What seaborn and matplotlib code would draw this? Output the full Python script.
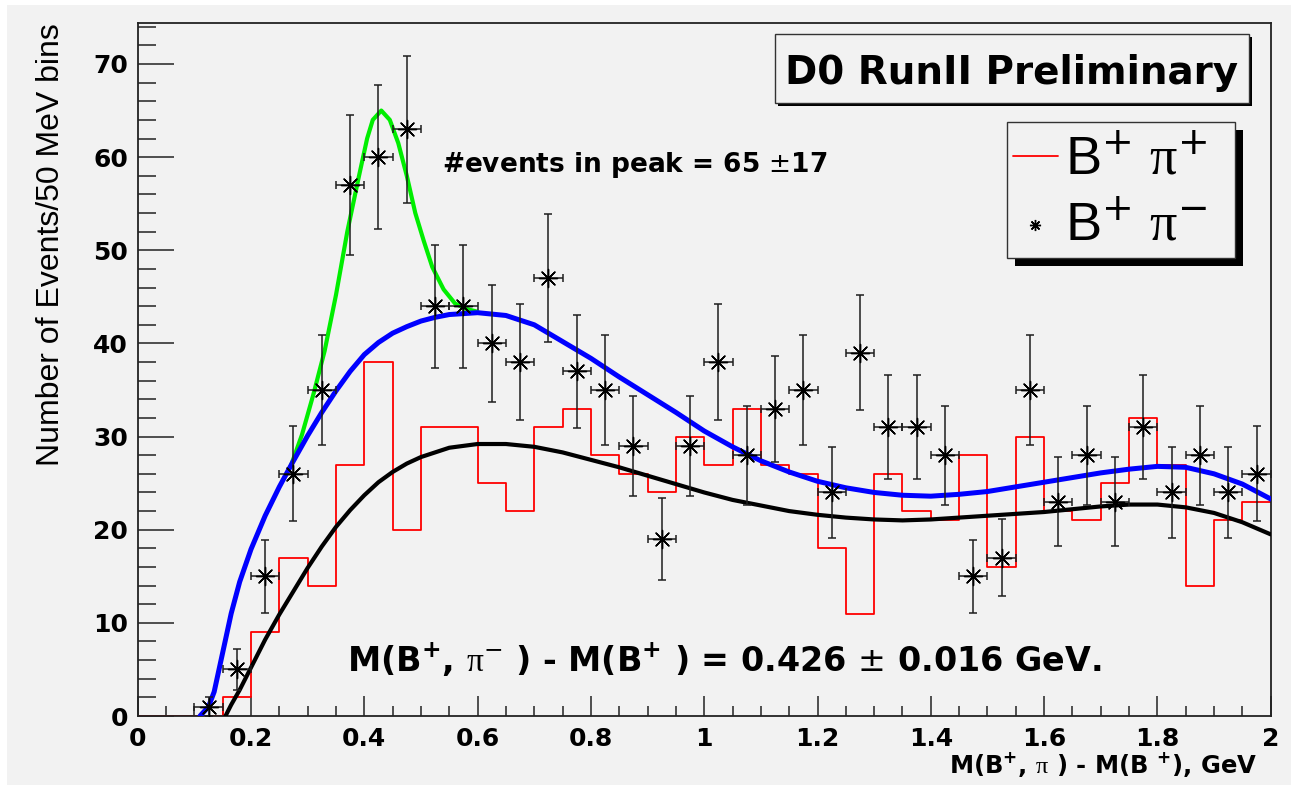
import numpy as np
import pandas as pd
import matplotlib
matplotlib.use("Agg")
import matplotlib.pyplot as plt
from matplotlib.patches import Rectangle
from matplotlib.lines import Line2D
from matplotlib.ticker import MultipleLocator, FixedLocator
import seaborn as sns

# ---------------------------------------------------------------- data
# 50 MeV bins of M(B+,pi) - M(B+) in GeV
BIN_WIDTH = 0.05
bin_edges = np.linspace(0.0, 2.0, 41)
bin_centers = 0.5 * (bin_edges[:-1] + bin_edges[1:])

# right-sign B+ pi- candidates per bin
minus_counts = [0, 0, 1, 5, 15, 26, 35, 57, 60, 63,
                44, 44, 40, 38, 47, 37, 35, 29, 19, 29,
                38, 28, 33, 35, 24, 39, 31, 31, 28, 15,
                17, 35, 23, 28, 23, 31, 24, 28, 24, 26]
minus_errors = [0.0, 0.0, 1.0, 2.2, 3.9, 5.1, 5.9, 7.5, 7.7, 7.9,
                6.6, 6.6, 6.3, 6.2, 6.9, 6.1, 5.9, 5.4, 4.4, 5.4,
                6.2, 5.3, 5.7, 5.9, 4.9, 6.2, 5.6, 5.6, 5.3, 3.9,
                4.1, 5.9, 4.8, 5.3, 4.8, 5.6, 4.9, 5.3, 4.9, 5.1]

# wrong-sign B+ pi+ candidates per bin
plus_counts = [0, 0, 0, 2, 9, 17, 14, 27, 38, 20,
               31, 31, 25, 22, 31, 33, 28, 26, 24, 30,
               27, 33, 27, 26, 18, 11, 26, 22, 21, 28,
               16, 30, 22, 21, 25, 32, 27, 14, 21, 23]

# background fit to B+ pi+ (black)
bkg_x = [0.155, 0.165, 0.180, 0.200, 0.225, 0.250, 0.275, 0.300, 0.325, 0.350,
         0.375, 0.400, 0.425, 0.450, 0.475, 0.500, 0.550, 0.600, 0.650, 0.700,
         0.750, 0.800, 0.850, 0.900, 0.950, 1.000, 1.050, 1.100, 1.150, 1.200,
         1.250, 1.300, 1.350, 1.400, 1.450, 1.500, 1.550, 1.600, 1.650, 1.700,
         1.750, 1.800, 1.850, 1.900, 1.950, 2.000]
bkg_y = [0.0, 1.2, 2.8, 5.2, 8.2, 10.9, 13.4, 15.9, 18.2, 20.3,
         22.1, 23.7, 25.1, 26.2, 27.1, 27.8, 28.8, 29.2, 29.2, 28.9,
         28.3, 27.5, 26.7, 25.8, 24.9, 24.0, 23.2, 22.6, 22.0, 21.6,
         21.3, 21.1, 21.0, 21.1, 21.3, 21.5, 21.7, 21.9, 22.2, 22.5,
         22.7, 22.7, 22.4, 21.8, 20.8, 19.5]

# background fit to B+ pi- (blue)
fit_x = [0.110, 0.125, 0.135, 0.150, 0.165, 0.180, 0.200, 0.225, 0.250, 0.275,
         0.300, 0.325, 0.350, 0.375, 0.400, 0.425, 0.450, 0.475, 0.500, 0.525,
         0.550, 0.600, 0.650, 0.700, 0.750, 0.800, 0.850, 0.900, 0.950, 1.000,
         1.050, 1.100, 1.150, 1.200, 1.250, 1.300, 1.350, 1.400, 1.450, 1.500,
         1.550, 1.600, 1.650, 1.700, 1.750, 1.800, 1.850, 1.900, 1.950, 2.000]
fit_y = [0.0, 1.0, 2.6, 6.8, 11.0, 14.4, 17.9, 21.5, 24.6, 27.4,
         30.1, 32.6, 34.9, 37.0, 38.8, 40.1, 41.1, 41.8, 42.4, 42.8,
         43.1, 43.3, 43.0, 42.0, 40.2, 38.4, 36.4, 34.5, 32.6, 30.6,
         28.9, 27.4, 26.2, 25.2, 24.5, 24.0, 23.7, 23.6, 23.8, 24.1,
         24.6, 25.1, 25.6, 26.1, 26.5, 26.8, 26.7, 26.0, 24.9, 23.3]

# signal + background fit (green)
peak_x = [0.270, 0.290, 0.310, 0.330, 0.350, 0.370, 0.390, 0.405, 0.415, 0.430,
          0.445, 0.460, 0.475, 0.490, 0.505, 0.520, 0.540, 0.560, 0.580, 0.600]
peak_y = [26.8, 30.2, 34.5, 39.2, 45.2, 52.0, 57.8, 62.0, 64.0, 65.0,
          64.0, 61.5, 58.0, 54.0, 51.0, 48.2, 45.8, 44.3, 43.7, 43.4]

x_tick_values = [0.0, 0.2, 0.4, 0.6, 0.8, 1.0, 1.2, 1.4, 1.6, 1.8, 2.0]
x_tick_labels = ["0", "0.2", "0.4", "0.6", "0.8", "1", "1.2", "1.4", "1.6", "1.8", "2"]
y_tick_values = [0, 10, 20, 30, 40, 50, 60, 70]

# ---------------------------------------------------------------- style
sns.set_style("ticks")
plt.rcParams["font.family"] = ["DejaVu Sans"]
plt.rcParams["text.color"] = "black"
plt.rcParams["axes.labelcolor"] = "black"
plt.rcParams["xtick.color"] = "black"
plt.rcParams["ytick.color"] = "black"
plt.rcParams["mathtext.fontset"] = "custom"
plt.rcParams["mathtext.rm"] = "DejaVu Sans"
plt.rcParams["mathtext.it"] = "DejaVu Sans:italic"
plt.rcParams["mathtext.bf"] = "DejaVu Sans:bold"
plt.rcParams["mathtext.sf"] = "Liberation Serif"

BG = "#f2f2f2"
W, H = 1298, 792


def fx(px):
    return px / W


def fy(py):
    return 1.0 - py / H


fig = plt.figure(figsize=(W / 100, H / 100), dpi=100, facecolor="white")
fig.add_artist(Rectangle((fx(7), fy(785)), fx(1291) - fx(7), fy(5) - fy(785),
                         transform=fig.transFigure, facecolor=BG,
                         edgecolor="none", zorder=-10))

AX_L, AX_R, AX_T, AX_B = 137.7, 1270.7, 23.0, 716.0
ax = fig.add_axes([fx(AX_L), fy(AX_B), fx(AX_R) - fx(AX_L), fy(AX_T) - fy(AX_B)])
ax.set_facecolor(BG)

plus_df = pd.DataFrame({"mass": bin_centers, "n": plus_counts})
minus_df = pd.DataFrame({"mass": bin_centers, "n": minus_counts, "err": minus_errors})
minus_df = minus_df[minus_df["n"] > 0]

# wrong-sign histogram
sns.histplot(data=plus_df, x="mass", weights="n", binwidth=BIN_WIDTH,
             binrange=(0.0, 2.0), element="step", fill=False, color="#ff0000",
             linewidth=1.3, ax=ax, zorder=2)

# fit curves
sns.lineplot(x=peak_x, y=peak_y, sort=False, estimator=None,
             color="#00ee00", linewidth=3.0, ax=ax, zorder=3)
sns.lineplot(x=fit_x, y=fit_y, sort=False, estimator=None,
             color="#0000ff", linewidth=3.6, ax=ax, zorder=4)
sns.lineplot(x=bkg_x, y=bkg_y, sort=False, estimator=None,
             color="black", linewidth=3.0, ax=ax, zorder=3.5)

# right-sign data points with errors
ax.errorbar(minus_df["mass"], minus_df["n"], xerr=BIN_WIDTH / 2, yerr=minus_df["err"],
            fmt="none", ecolor="#1e1e1e", elinewidth=1.1, capsize=3,
            capthick=1.1, zorder=5)
sns.scatterplot(data=minus_df, x="mass", y="n", marker=(8, 2, 0), s=170,
                color="black", linewidth=1.0, ax=ax, zorder=6, legend=False)
sns.scatterplot(data=minus_df, x="mass", y="n", marker="o", s=12,
                color="black", linewidth=0, ax=ax, zorder=6, legend=False)

# axes
ax.set_xlim(0.0, 2.0)
ax.set_ylim(0.0, 74.4)
ax.xaxis.set_major_locator(FixedLocator(x_tick_values))
ax.set_xticklabels(x_tick_labels, fontweight="bold", fontsize=18)
ax.xaxis.set_minor_locator(MultipleLocator(0.05))
ax.yaxis.set_major_locator(FixedLocator(y_tick_values))
ax.set_yticklabels([str(v) for v in y_tick_values], fontweight="bold", fontsize=18)
ax.yaxis.set_minor_locator(MultipleLocator(2))
ax.tick_params(axis="x", which="major", direction="in", length=14.5, width=1.1,
               pad=8, colors="#222222", labelcolor="black")
ax.tick_params(axis="x", which="minor", direction="in", length=7.2, width=1.1,
               colors="#222222")
ax.tick_params(axis="y", which="major", direction="in", length=26, width=1.1,
               pad=7, colors="#222222", labelcolor="black")
ax.tick_params(axis="y", which="minor", direction="in", length=13, width=1.1,
               colors="#222222")
for sp in ax.spines.values():
    sp.set_visible(True)
    sp.set_color("#222222")
    sp.set_linewidth(1.3)

ax.set_xlabel(r"M(B$^{\mathbf{+}}$, $\mathsf{\pi}$ ) - M(B $^{\mathbf{+}}$), GeV",
              fontsize=17.5, fontweight="bold", ha="right", va="baseline")
ax.xaxis.set_label_coords((1257 - AX_L) / (AX_R - AX_L), (AX_B - 773) / (AX_B - AX_T))
ax.set_ylabel("Number of Events/50 MeV bins", fontsize=23,
              family=["Liberation Sans", "DejaVu Sans"], ha="center", va="center")
ax.yaxis.set_label_coords((51 - AX_L) / (AX_R - AX_L), (AX_B - 245) / (AX_B - AX_T))

# annotations
ax.text(0.538, 58.4, r"#events in peak = 65 $\pm$17", fontsize=19,
        fontweight="bold", ha="left", va="baseline", zorder=7)
ax.text(0.369, 4.76,
        r"M(B$^{\mathbf{+}}$, $\mathsf{\pi}^{-}$ ) - M(B$^{\mathbf{+}}$ ) = 0.426 $\pm$ 0.016 GeV.",
        fontsize=24, fontweight="bold", ha="left", va="baseline", zorder=7)


def shadow_box(x0, y0, x1, y1, off, lw):
    fig.add_artist(Rectangle((fx(x0 + off), fy(y1 + off)), fx(x1) - fx(x0),
                             fy(y0) - fy(y1), transform=fig.transFigure,
                             facecolor="black", edgecolor="none", zorder=5))
    fig.add_artist(Rectangle((fx(x0), fy(y1)), fx(x1) - fx(x0),
                             fy(y0) - fy(y1), transform=fig.transFigure,
                             facecolor=BG, edgecolor="#333333", linewidth=lw,
                             zorder=6))


# experiment label box
shadow_box(775, 34, 1249, 103, 3, 1.0)
fig.text(fx(1012), fy(83.5), "D0 RunII Preliminary", fontsize=28,
         fontweight="bold", ha="center", va="baseline", zorder=7)

# legend box
shadow_box(1007, 122, 1235, 258, 8, 1.0)
fig.add_artist(Line2D([fx(1013), fx(1058)], [fy(156), fy(156)],
                      transform=fig.transFigure, color="#ff0000",
                      linewidth=1.3, zorder=7))
fig.add_artist(Line2D([fx(1035)], [fy(225)], transform=fig.transFigure,
                      marker=(8, 2, 0), markersize=8, markeredgewidth=1.0,
                      color="black", linestyle="none", zorder=7))
fig.text(fx(1065), fy(174), r"B$^{+}$ $\mathsf{\pi}^{+}$", fontsize=39,
         family=["Liberation Sans", "DejaVu Sans"], ha="left", va="baseline",
         zorder=7)
fig.text(fx(1065), fy(240.7), r"B$^{+}$ $\mathsf{\pi}^{-}$", fontsize=39,
         family=["Liberation Sans", "DejaVu Sans"], ha="left", va="baseline",
         zorder=7)

fig.savefig("out.png", dpi=100, facecolor=fig.get_facecolor())
